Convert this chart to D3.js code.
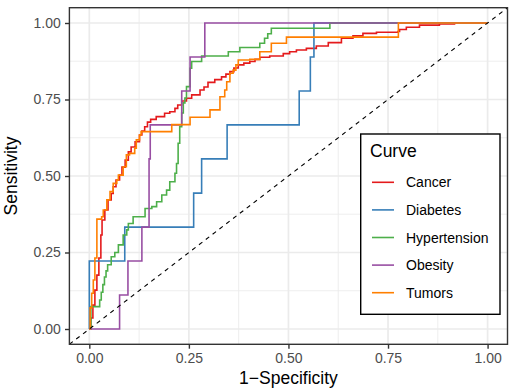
<!DOCTYPE html>
<html lang="en">
<head>
<meta charset="utf-8">
<title>ROC curves</title>
<script src="https://d3js.org/d3.v7.min.js"></script>
<style>
  body { margin: 0; background: #fff; }
  svg { display: block; font-family: "Liberation Sans", Arial, sans-serif; }
</style>
</head>
<body>
<script>
// data: false positive rate / true positive rate per curve
const curveNames = ["Cancer", "Diabetes", "Hypertension", "Obesity", "Tumors"];

const cancerFpr = [0, .004, .009, .014, .019, .024, .029, .032, .039, .047, .055, .060, .067, .076, .082, .090, .098, .105, .115, .126, .132, .139, .146, .154, .168, .189, .202, .215, .222, .232, .244, .257, .278, .288, .298, .315, .332, .343, .353, .363, .374, .388, .403, .416, .428, .453, .487, .503, .520, .545, .570, .600, .633, .662, .687, .721, .775, .779, .796, .829, .879, .917, 1];
const cancerTpr = [0, .036, .078, .127, .176, .232, .307, .356, .389, .422, .443, .465, .487, .503, .529, .552, .579, .595, .612, .634, .647, .661, .676, .685, .694, .705, .710, .721, .732, .745, .754, .765, .781, .791, .806, .815, .824, .833, .841, .853, .863, .869, .874, .881, .888, .892, .900, .906, .912, .917, .925, .936, .950, .958, .966, .970, .972, .979, .986, .993, .997, 1, 1];

const diabetesFpr = [0, 0, .089, .262, .282, .346, .527, .555, .564, 1];
const diabetesTpr = [0, .222, .333, .444, .556, .667, .778, .889, 1, 1];

const hypertensionFpr = [0, .004, .026, .030, .034, .038, .042, .046, .055, .064, .073, .085, .094, .098, .110, .140, .157, .169, .182, .194, .202, .215, .219, .223, .227, .232, .236, .240, .244, .253, .257, .282, .349, .378, .428, .440, .448, .457, .604, 1];
const hypertensionTpr = [0, .073, .095, .12, .145, .17, .19, .21, .236, .25, .275, .307, .324, .345, .367, .394, .40, .416, .438, .454, .481, .509, .541, .607, .661, .706, .739, .755, .792, .852, .874, .892, .906, .92, .934, .95, .965, .983, 1, 1];

const obesityFpr = [0, .076, .097, .132, .150, .153, .232, .253, .290, 1];
const obesityTpr = [0, .111, .222, .333, .556, .667, .778, .889, 1, 1];

const tumorsFpr = [0, .002, .006, .010, .014, .019, .031, .035, .044, .052, .060, .069, .073, .085, .093, .101, .114, .118, .126, .130, .207, .253, .303, .328, .340, .345, .353, .361, .368, .374, .403, .428, .457, .495, .776, 1];
const tumorsTpr = [0, .069, .117, .16, .232, .359, .367, .389, .422, .449, .476, .487, .503, .530, .569, .574, .591, .618, .634, .645, .668, .692, .716, .759, .781, .808, .836, .846, .863, .879, .881, .906, .934, .954, 1, 1];

const tickValues = [0, 0.25, 0.5, 0.75, 1];
const tickLabels = ["0.00", "0.25", "0.50", "0.75", "1.00"];
const minorValues = [0.125, 0.375, 0.625, 0.875];

//constants
const w = 510;
const h = 390;
const panel = {left: 69.4, right: 507.5, top: 7.7, bottom: 344.3};
const colors = ["#E41A1C", "#377EB8", "#4DAF4A", "#984EA3", "#FF7F00"];

const curves = [
  d3.zip(cancerFpr, cancerTpr),
  d3.zip(diabetesFpr, diabetesTpr),
  d3.zip(hypertensionFpr, hypertensionTpr),
  d3.zip(obesityFpr, obesityTpr),
  d3.zip(tumorsFpr, tumorsTpr)
];

//scales
const x = d3.scaleLinear().domain([-0.05, 1.05]).range([panel.left, panel.right]);
const y = d3.scaleLinear().domain([-0.05, 1.05]).range([panel.bottom, panel.top]);

const svg = d3.select("body")
              .append("svg")
              .attr("width", w)
              .attr("height", h);

svg.append("defs").append("clipPath")
   .attr("id", "panel-clip")
   .append("rect")
   .attr("x", panel.left)
   .attr("y", panel.top)
   .attr("width", panel.right - panel.left)
   .attr("height", panel.bottom - panel.top);

//grid
const grid = svg.append("g");
grid.selectAll("line.minorx").data(minorValues).enter().append("line")
    .attr("x1", d => x(d)).attr("x2", d => x(d))
    .attr("y1", panel.top).attr("y2", panel.bottom)
    .attr("stroke", "#ebebeb").attr("stroke-width", 0.85);
grid.selectAll("line.minory").data(minorValues).enter().append("line")
    .attr("y1", d => y(d)).attr("y2", d => y(d))
    .attr("x1", panel.left).attr("x2", panel.right)
    .attr("stroke", "#ebebeb").attr("stroke-width", 0.85);
grid.selectAll("line.majorx").data(tickValues).enter().append("line")
    .attr("x1", d => x(d)).attr("x2", d => x(d))
    .attr("y1", panel.top).attr("y2", panel.bottom)
    .attr("stroke", "#ebebeb").attr("stroke-width", 1.7);
grid.selectAll("line.majory").data(tickValues).enter().append("line")
    .attr("y1", d => y(d)).attr("y2", d => y(d))
    .attr("x1", panel.left).attr("x2", panel.right)
    .attr("stroke", "#ebebeb").attr("stroke-width", 1.7);

//curves
const line = d3.line()
               .x(d => x(d[0]))
               .y(d => y(d[1]))
               .curve(d3.curveStepAfter);

const plot = svg.append("g").attr("clip-path", "url(#panel-clip)");

plot.selectAll("path.roc")
    .data(curves)
    .enter()
    .append("path")
    .attr("class", "roc")
    .attr("fill", "none")
    .attr("stroke", (d, i) => colors[i])
    .attr("stroke-width", 1.6)
    .attr("d", line);

//reference diagonal
plot.append("line")
    .attr("x1", x(-0.05)).attr("y1", y(-0.05))
    .attr("x2", x(1.05)).attr("y2", y(1.05))
    .attr("stroke", "#000")
    .attr("stroke-width", 1.1)
    .attr("stroke-dasharray", "4.3,4.3");

//panel border
svg.append("rect")
   .attr("x", panel.left).attr("y", panel.top)
   .attr("width", panel.right - panel.left)
   .attr("height", panel.bottom - panel.top)
   .attr("fill", "none")
   .attr("stroke", "#333333")
   .attr("stroke-width", 1.4);

//axes
const xAxis = svg.append("g")
   .attr("transform", "translate(0," + panel.bottom + ")")
   .call(d3.axisBottom(x).tickValues(tickValues).tickFormat((d, i) => tickLabels[i]).tickSize(4.4).tickPadding(4));
const yAxis = svg.append("g")
   .attr("transform", "translate(" + panel.left + ",0)")
   .call(d3.axisLeft(y).tickValues(tickValues).tickFormat((d, i) => tickLabels[i]).tickSize(4.4).tickPadding(4.3));

[xAxis, yAxis].forEach(a => {
  a.select(".domain").remove();
  a.selectAll(".tick line").attr("stroke", "#333333").attr("stroke-width", 1.4);
  a.selectAll(".tick text")
   .attr("fill", "#4d4d4d")
   .attr("font-size", "14px")
   .attr("font-family", "'Liberation Sans', Arial, sans-serif");
});

//axis titles
svg.append("text")
   .attr("x", (panel.left + panel.right) / 2)
   .attr("y", 384)
   .attr("text-anchor", "middle")
   .attr("font-size", "17.5px")
   .attr("fill", "#000")
   .text("1\u2212Specificity");

svg.append("text")
   .attr("transform", "translate(16.5," + (panel.top + panel.bottom) / 2 + ") rotate(-90)")
   .attr("text-anchor", "middle")
   .attr("font-size", "17.5px")
   .attr("fill", "#000")
   .text("Sensitivity");

//legend
const legend = svg.append("g");
legend.append("rect")
      .attr("x", 360.7).attr("y", 134)
      .attr("width", 139.3).attr("height", 180.3)
      .attr("fill", "#fff")
      .attr("stroke", "#000")
      .attr("stroke-width", 1.4);
legend.append("text")
      .attr("x", 370).attr("y", 157.3)
      .attr("font-size", "17.5px")
      .text("Curve");

const keys = legend.selectAll("g.key")
      .data(curveNames)
      .enter()
      .append("g")
      .attr("class", "key")
      .attr("transform", (d, i) => "translate(0," + (182.3 + i * 27.6) + ")");
keys.append("line")
    .attr("x1", 372).attr("x2", 394)
    .attr("stroke", (d, i) => colors[i])
    .attr("stroke-width", 1.6);
keys.append("text")
    .attr("x", 406).attr("y", 5)
    .attr("font-size", "14px")
    .text(d => d);
</script>
</body>
</html>
